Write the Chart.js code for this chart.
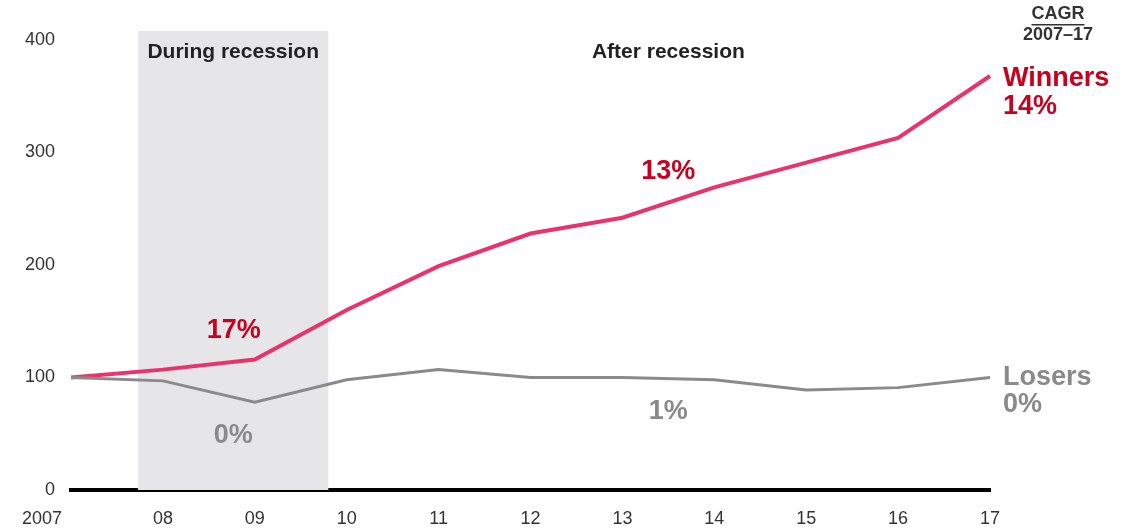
<!DOCTYPE html>
<html><head><meta charset="utf-8">
<script src="https://cdn.jsdelivr.net/npm/chart.js@4.4.1/dist/chart.umd.min.js"></script>
<style>html,body{margin:0;padding:0;background:#fff}#wrap{width:1127px;height:529px}</style>
</head><body><div id="wrap"><canvas id="c" width="1127" height="529"></canvas></div>
<script>
const categories = ['2007','08','09','10','11','12','13','14','15','16','17'];
const winners = [100, 107, 116, 160, 199, 228, 242, 269, 291, 313, 368];
const losers  = [100, 97, 78, 98, 107, 100, 100, 98, 89, 91, 100];
const yTicks = [0, 100, 200, 300, 400];
const recession = [0.73, 2.8];

const FONT = 'Arial, "Liberation Sans", sans-serif';
const RED = '#c8001e', PINK = '#e8336d', GREY = '#8a8a8a', DARK = '#333333';

const overlay = {
  id: 'overlay',
  beforeDatasetsDraw(chart) {
    const {ctx, chartArea, scales: {x, y}} = chart;
    const x0 = x.getPixelForValue(recession[0]), x1 = x.getPixelForValue(recession[1]);
    ctx.save();
    ctx.fillStyle = '#e6e6e8';
    ctx.fillRect(x0, chartArea.top, x1 - x0, chartArea.bottom - chartArea.top);
    ctx.restore();
  },
  afterDraw(chart) {
    const {ctx, scales: {x, y}} = chart;
    const t = (txt, xv, yv, size, color, align, dx) => {
      ctx.font = 'bold ' + size + 'px ' + FONT;
      ctx.fillStyle = color; ctx.textAlign = align || 'center'; ctx.textBaseline = 'middle';
      ctx.fillText(txt, x.getPixelForValue(xv) + (dx || 0), y.getPixelForValue(yv));
    };
    ctx.save();
    t('During recession', 1.765, 389, 21, '#222');
    t('After recession', 6.5, 389, 21, '#222');
    t('17%', 1.77, 142, 27, RED);
    t('13%', 6.5, 283, 27, RED);
    t('0%', 1.765, 48, 27, GREY);
    t('1%', 6.5, 70, 27, GREY);
    t('Winners', 10, 366, 27, RED, 'left', 13);
    t('14%', 10, 341, 27, RED, 'left', 13);
    t('Losers', 10, 100, 27, GREY, 'left', 13);
    t('0%', 10, 76, 27, GREY, 'left', 13);
    // CAGR header
    ctx.font = 'bold 18px ' + FONT; ctx.fillStyle = DARK; ctx.textAlign = 'center';
    const cx = x.getPixelForValue(10) + 68, cy = 14;
    ctx.fillText('CAGR', cx, cy);
    const w = ctx.measureText('CAGR').width;
    ctx.fillRect(cx - w / 2, cy + 10, w, 1.5);
    ctx.fillText('2007\u201317', cx, 35);
    // first x label, shifted left of the origin
    ctx.font = '18px ' + FONT; ctx.fillStyle = DARK; ctx.textAlign = 'right';
    ctx.fillText(categories[0], x.getPixelForValue(0) - 9, 519);
    ctx.restore();
  }
};

new Chart(document.getElementById('c'), {
  type: 'line',
  data: {
    labels: categories,
    datasets: [
      {label: 'Losers', data: losers, borderColor: GREY, borderWidth: 3, pointRadius: 0, tension: 0},
      {label: 'Winners', data: winners, borderColor: PINK, borderWidth: 4, pointRadius: 0, tension: 0}
    ]
  },
  options: {
    responsive: false, animation: false,
    layout: {padding: {top: 31, right: 137, left: 0, bottom: 0}},
    plugins: {legend: {display: false}, tooltip: {enabled: false}},
    scales: {
      x: {
        type: 'category', offset: false,
        grid: {display: false, drawTicks: false},
        border: {display: true, color: '#000', width: 4},
        ticks: {color: DARK, font: {size: 18, family: FONT}, padding: 18, maxRotation: 0, autoSkip: false,
          callback: (v, i) => i === 0 ? '' : categories[i]},
        afterFit: s => { s.height = 39; }
      },
      y: {
        min: 0, max: 408,
        grid: {display: false, drawTicks: false},
        border: {display: false},
        afterBuildTicks: s => { s.ticks = yTicks.map(v => ({value: v})); },
        ticks: {color: DARK, font: {size: 18, family: FONT}, padding: 16},
        afterFit: s => { s.width = 71; }
      }
    }
  },
  plugins: [overlay]
});
</script></body></html>
